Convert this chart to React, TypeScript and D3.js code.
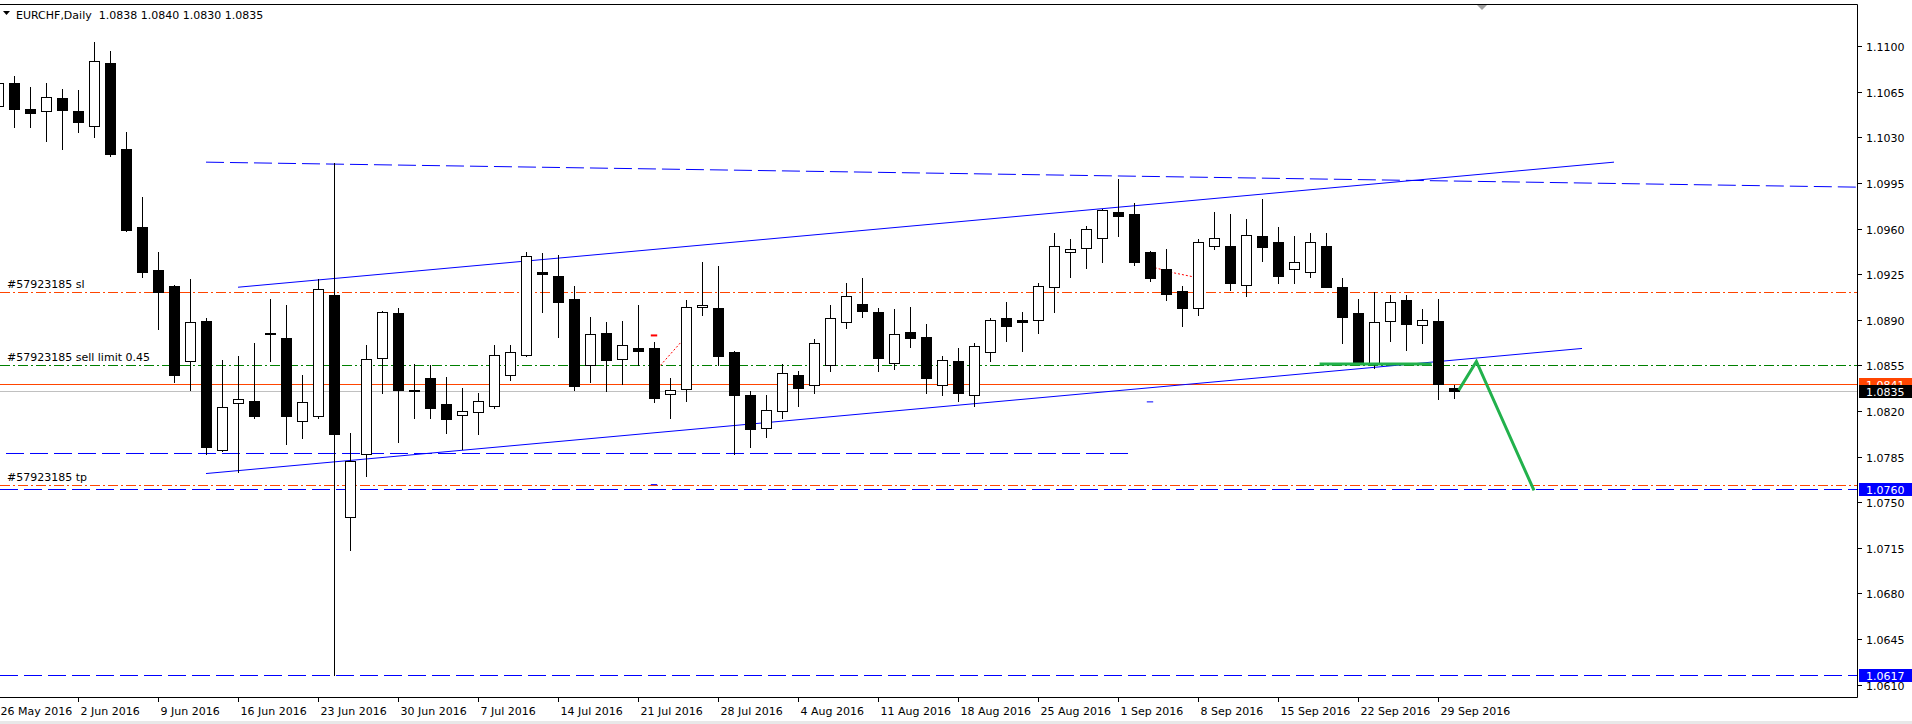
import React, { useEffect, useRef } from 'react';
import * as d3 from 'd3';

// EURCHF daily bars, 26 May 2016 .. 30 Sep 2016
const candleDates = [
  '2016-05-26', '2016-05-27', '2016-05-30', '2016-05-31',
  '2016-06-01', '2016-06-02', '2016-06-03', '2016-06-06', '2016-06-07', '2016-06-08', '2016-06-09', '2016-06-10',
  '2016-06-13', '2016-06-14', '2016-06-15', '2016-06-16', '2016-06-17', '2016-06-20', '2016-06-21', '2016-06-22',
  '2016-06-23', '2016-06-24', '2016-06-27', '2016-06-28', '2016-06-29', '2016-06-30',
  '2016-07-01', '2016-07-04', '2016-07-05', '2016-07-06', '2016-07-07', '2016-07-08', '2016-07-11', '2016-07-12',
  '2016-07-13', '2016-07-14', '2016-07-15', '2016-07-18', '2016-07-19', '2016-07-20', '2016-07-21', '2016-07-22',
  '2016-07-25', '2016-07-26', '2016-07-27', '2016-07-28', '2016-07-29',
  '2016-08-01', '2016-08-02', '2016-08-03', '2016-08-04', '2016-08-05', '2016-08-08', '2016-08-09', '2016-08-10',
  '2016-08-11', '2016-08-12', '2016-08-15', '2016-08-16', '2016-08-17', '2016-08-18', '2016-08-19', '2016-08-22',
  '2016-08-23', '2016-08-24', '2016-08-25', '2016-08-26', '2016-08-29', '2016-08-30', '2016-08-31',
  '2016-09-01', '2016-09-02', '2016-09-05', '2016-09-06', '2016-09-07', '2016-09-08', '2016-09-09', '2016-09-12',
  '2016-09-13', '2016-09-14', '2016-09-15', '2016-09-16', '2016-09-19', '2016-09-20', '2016-09-21', '2016-09-22',
  '2016-09-23', '2016-09-26', '2016-09-27', '2016-09-28', '2016-09-29', '2016-09-30',
];

const openPrices = [
  1.1054, 1.1072, 1.1052, 1.1050, 1.1060, 1.1050, 1.1039, 1.1087, 1.1021, 1.0961,
  1.0928, 1.0916, 1.0858, 1.0889, 1.0790, 1.0826, 1.0828, 1.0880, 1.0876, 1.0812,
  1.0816, 1.0909, 1.0739, 1.0787, 1.0861, 1.0895, 1.0836, 1.0845, 1.0825, 1.0817,
  1.0819, 1.0824, 1.0848, 1.0863, 1.0927, 1.0924, 1.0906, 1.0855, 1.0880, 1.0860,
  1.0868, 1.0868, 1.0833, 1.0837, 1.0900, 1.0899, 1.0865, 1.0832, 1.0807, 1.0820,
  1.0848, 1.0840, 1.0855, 1.0888, 1.0902, 1.0896, 1.0857, 1.0881, 1.0877, 1.0840,
  1.0858, 1.0832, 1.0865, 1.0891, 1.0890, 1.0890, 1.0915, 1.0942, 1.0945, 1.0953,
  1.0973, 1.0971, 1.0942, 1.0929, 1.0912, 1.0899, 1.0947, 1.0947, 1.0917, 1.0954,
  1.0950, 1.0929, 1.0927, 1.0947, 1.0915, 1.0895, 1.0856, 1.0889, 1.0905, 1.0886,
  1.0889, 1.0838,
];
const highPrices = [
  1.1074, 1.1077, 1.1069, 1.1072, 1.1067, 1.1066, 1.1103, 1.1096, 1.1034, 1.0984,
  1.0942, 1.0917, 1.0921, 1.0891, 1.0859, 1.0862, 1.0872, 1.0906, 1.0901, 1.0848,
  1.0921, 1.1010, 1.0803, 1.0871, 1.0897, 1.0899, 1.0856, 1.0855, 1.0846, 1.0838,
  1.0834, 1.0871, 1.0871, 1.0942, 1.0941, 1.0940, 1.0916, 1.0892, 1.0888, 1.0889,
  1.0901, 1.0873, 1.0845, 1.0905, 1.0934, 1.0931, 1.0866, 1.0835, 1.0832, 1.0856,
  1.0851, 1.0875, 1.0901, 1.0918, 1.0922, 1.0899, 1.0898, 1.0900, 1.0887, 1.0862,
  1.0868, 1.0872, 1.0891, 1.0904, 1.0896, 1.0918, 1.0957, 1.0952, 1.0962, 1.0975,
  1.0998, 1.0980, 1.0943, 1.0944, 1.0916, 1.0952, 1.0973, 1.0971, 1.0967, 1.0983,
  1.0961, 1.0954, 1.0957, 1.0957, 1.0922, 1.0906, 1.0911, 1.0909, 1.0909, 1.0898,
  1.0906, 1.0840,
];
const lowPrices = [
  1.1052, 1.1038, 1.1038, 1.1027, 1.1021, 1.1034, 1.1030, 1.1016, 1.0958, 1.0923,
  1.0883, 1.0842, 1.0836, 1.0787, 1.0789, 1.0773, 1.0815, 1.0858, 1.0795, 1.0799,
  1.0815, 1.0617, 1.0713, 1.0770, 1.0834, 1.0796, 1.0815, 1.0815, 1.0803, 1.0791,
  1.0802, 1.0822, 1.0844, 1.0862, 1.0896, 1.0877, 1.0836, 1.0842, 1.0835, 1.0841,
  1.0855, 1.0827, 1.0815, 1.0828, 1.0894, 1.0855, 1.0787, 1.0792, 1.0800, 1.0815,
  1.0824, 1.0834, 1.0851, 1.0884, 1.0892, 1.0851, 1.0852, 1.0869, 1.0834, 1.0832,
  1.0828, 1.0824, 1.0858, 1.0874, 1.0866, 1.0880, 1.0896, 1.0923, 1.0930, 1.0934,
  1.0954, 1.0932, 1.0920, 1.0905, 1.0885, 1.0894, 1.0944, 1.0913, 1.0908, 1.0935,
  1.0918, 1.0918, 1.0923, 1.0915, 1.0872, 1.0856, 1.0853, 1.0874, 1.0867, 1.0872,
  1.0829, 1.0830,
];
const closePrices = [
  1.1072, 1.1052, 1.1049, 1.1061, 1.1051, 1.1042, 1.1089, 1.1017, 1.0959, 1.0927,
  1.0911, 1.0848, 1.0888, 1.0792, 1.0823, 1.0829, 1.0816, 1.0879, 1.0816, 1.0827,
  1.0914, 1.0802, 1.0782, 1.0860, 1.0896, 1.0836, 1.0835, 1.0822, 1.0814, 1.0820,
  1.0828, 1.0863, 1.0865, 1.0939, 1.0925, 1.0904, 1.0839, 1.0879, 1.0859, 1.0871,
  1.0866, 1.0830, 1.0836, 1.0900, 1.0901, 1.0862, 1.0832, 1.0806, 1.0821, 1.0849,
  1.0838, 1.0872, 1.0891, 1.0908, 1.0897, 1.0861, 1.0879, 1.0876, 1.0845, 1.0859,
  1.0834, 1.0870, 1.0890, 1.0885, 1.0888, 1.0916, 1.0947, 1.0944, 1.0960, 1.0974,
  1.0970, 1.0934, 1.0922, 1.0910, 1.0899, 1.0950, 1.0953, 1.0918, 1.0955, 1.0946,
  1.0924, 1.0934, 1.0950, 1.0915, 1.0892, 1.0856, 1.0888, 1.0904, 1.0887, 1.0890,
  1.0841, 1.0835,
];

const priceTicks = [
  '1.1100', '1.1065', '1.1030', '1.0995', '1.0960', '1.0925', '1.0890', '1.0855',
  '1.0820', '1.0785', '1.0750', '1.0715', '1.0680', '1.0645', '1.0610',
];
const dateTickDays = [
  '2016-05-26', '2016-06-02', '2016-06-09', '2016-06-16', '2016-06-23', '2016-06-30', '2016-07-07',
  '2016-07-14', '2016-07-21', '2016-07-28', '2016-08-04', '2016-08-11', '2016-08-18', '2016-08-25',
  '2016-09-01', '2016-09-08', '2016-09-15', '2016-09-22', '2016-09-29',
];
const dateTickLabels = [
  '26 May 2016', '2 Jun 2016', '9 Jun 2016', '16 Jun 2016', '23 Jun 2016', '30 Jun 2016', '7 Jul 2016',
  '14 Jul 2016', '21 Jul 2016', '28 Jul 2016', '4 Aug 2016', '11 Aug 2016', '18 Aug 2016', '25 Aug 2016',
  '1 Sep 2016', '8 Sep 2016', '15 Sep 2016', '22 Sep 2016', '29 Sep 2016',
];

// order levels
const slLevel = 1.0911;
const sellLimitLevel = 1.0855;
const tpLevel = 1.0763;
const askLevel = 1.0841;
const bidLevel = 1.0835;
const blueLevels = [1.0760, 1.0617];

// drawn objects: [bar position, price]
const upperDashedRay: [number, number][] = [[13, 1.1011], [91, 1.09965]];
const channelTop: [number, number][] = [[15, 1.0915], [101, 1.1011]];
const channelBottom: [number, number][] = [[13, 1.0772], [99, 1.0868]];
const supportDashed: [number, number][] = [[-1, 1.0788], [71, 1.0788]];
const greenBase: [number, number][] = [[82.6, 1.0856], [89.6, 1.0856]];
const greenPath: [number, number][] = [[91.3, 1.0836], [92.4, 1.0858], [96, 1.0759]];
const redHistory1: [number, number][] = [[41.4, 1.0855], [42.7, 1.0873]];
const redHistory2: [number, number][] = [[72.3, 1.0930], [73.5, 1.0926], [74.7, 1.0923]];
const redMarker: [number, number][] = [[40.8, 1.0878], [41.2, 1.0878]];
const blueMarker1: [number, number][] = [[40.8, 1.07635], [41.2, 1.07635]];
const blueMarker2: [number, number][] = [[71.8, 1.0827], [72.2, 1.0827]];

const W = 1912;
const H = 724;
const RIGHT = 1857;
const TOP = 4;
const BOTTOM = 697;
const FONT = '"DejaVu Sans", Verdana, sans-serif';

const EurChfChart = () => {
  const ref = useRef<SVGSVGElement>(null);

  useEffect(() => {
    if (!ref.current) return;
    const svg = d3.select(ref.current);
    svg.selectAll('*').remove();

    const x = d3.scaleLinear().domain([0, 91]).range([-2, 1454]);
    const y = d3.scaleLinear().domain([1.11, 1.061]).range([46.2, 684.6]);
    const sy = (p: number) => Math.round(y(p)) + 0.5;
    const sx = (i: number) => Math.round(x(i)) + 0.5;

    svg.append('rect').attr('width', W).attr('height', H).attr('fill', '#fff');

    svg.append('defs').append('clipPath').attr('id', 'plot')
      .append('rect').attr('x', 0).attr('y', TOP + 1).attr('width', RIGHT).attr('height', BOTTOM - TOP - 1);

    const plot = svg.append('g').attr('clip-path', 'url(#plot)');
    const line = d3.line<[number, number]>().x(d => x(d[0])).y(d => y(d[1]));

    // horizontal order lines
    const hline = (level: number, color: string, dash: string | null) => {
      plot.append('line')
        .attr('x1', 0).attr('x2', RIGHT)
        .attr('y1', sy(level)).attr('y2', sy(level))
        .attr('stroke', color).attr('stroke-width', 1)
        .attr('stroke-dasharray', dash);
    };
    hline(bidLevel, '#c0c0c0', null);
    hline(askLevel, '#ff4500', null);
    hline(slLevel, '#ff4500', '10,3,2,3');
    hline(tpLevel, '#ff4500', '10,3,2,3');
    hline(sellLimitLevel, '#008000', '10,3,2,3');
    blueLevels.forEach(l => hline(l, '#0000ff', '18,6'));

    // trend objects
    const posR = x.invert(RIGHT);
    const [a, b] = upperDashedRay;
    const rayEnd: [number, number] = [posR, a[1] + (b[1] - a[1]) * (posR - a[0]) / (b[0] - a[0])];
    plot.append('path').attr('d', line([a, rayEnd])).attr('fill', 'none')
      .attr('stroke', '#0000ff').attr('stroke-dasharray', '18,6');
    plot.append('path').attr('d', line(supportDashed)).attr('fill', 'none')
      .attr('stroke', '#0000ff').attr('stroke-dasharray', '18,6')
      .attr('transform', `translate(0,${sy(supportDashed[0][1]) - y(supportDashed[0][1])})`);
    [channelTop, channelBottom].forEach(seg => {
      plot.append('path').attr('d', line(seg)).attr('fill', 'none').attr('stroke', '#0000ff');
    });
    [redHistory1, redHistory2].forEach(seg => {
      plot.append('path').attr('d', line(seg)).attr('fill', 'none')
        .attr('stroke', '#ff0000').attr('stroke-dasharray', '2,2');
    });
    plot.append('path').attr('d', line(redMarker)).attr('stroke', '#ff0000').attr('stroke-width', 2);
    [blueMarker1, blueMarker2].forEach(seg => {
      plot.append('path').attr('d', line(seg)).attr('stroke', '#0000ff').attr('stroke-width', 1);
    });

    // candles
    const candles = candleDates.map((d, i) => ({
      d, i, o: openPrices[i], h: highPrices[i], l: lowPrices[i], c: closePrices[i],
    }));
    const g = plot.append('g');
    candles.forEach(k => {
      const cx = sx(k.i);
      g.append('line')
        .attr('x1', cx).attr('x2', cx)
        .attr('y1', Math.round(y(k.h))).attr('y2', Math.round(y(k.l)) + 1)
        .attr('stroke', '#000');
      const top = Math.round(y(Math.max(k.o, k.c)));
      const bot = Math.round(y(Math.min(k.o, k.c)));
      if (bot - top < 1) {
        g.append('line')
          .attr('x1', cx - 5.5).attr('x2', cx + 5.5)
          .attr('y1', top + 0.5).attr('y2', top + 0.5)
          .attr('stroke', '#000');
      } else {
        g.append('rect')
          .attr('x', cx - 5).attr('y', top + 0.5)
          .attr('width', 10).attr('height', bot - top)
          .attr('fill', k.c > k.o ? '#fff' : '#000')
          .attr('stroke', '#000');
      }
    });

    // green hand-drawn lines on top
    [greenBase, greenPath].forEach(seg => {
      plot.append('path').attr('d', line(seg)).attr('fill', 'none')
        .attr('stroke', '#22b14c').attr('stroke-width', 3).attr('stroke-linejoin', 'miter');
    });

    // order labels
    const orderLabels: [string, number][] = [
      ['#57923185 sl', slLevel],
      ['#57923185 sell limit 0.45', sellLimitLevel],
      ['#57923185 tp', tpLevel],
    ];
    orderLabels.forEach(([t, lvl]) => {
      svg.append('text').attr('x', 7).attr('y', Math.round(y(lvl)) - 4)
        .attr('font-family', FONT).attr('font-size', 11).attr('fill', '#000').text(t);
    });

    // frame
    svg.append('path')
      .attr('d', `M0,${TOP + 0.5}H${RIGHT + 0.5}V${BOTTOM + 0.5}H0`)
      .attr('fill', 'none').attr('stroke', '#000');

    // price axis
    priceTicks.forEach(t => {
      const py = sy(+t);
      svg.append('line').attr('x1', RIGHT).attr('x2', RIGHT + 5).attr('y1', py).attr('y2', py).attr('stroke', '#000');
      svg.append('text').attr('x', 1866).attr('y', py + 4)
        .attr('font-family', FONT).attr('font-size', 11).attr('fill', '#000').text(t);
    });
    const priceBox = (level: number, bg: string) => {
      const py = Math.round(y(level));
      svg.append('rect').attr('x', 1859).attr('y', py - 6).attr('width', W - 1859).attr('height', 13).attr('fill', bg);
      svg.append('text').attr('x', 1866).attr('y', py + 5)
        .attr('font-family', FONT).attr('font-size', 11).attr('fill', '#fff').text(level.toFixed(4));
    };
    priceBox(askLevel, '#ff4500');
    priceBox(bidLevel, '#000');
    blueLevels.forEach(l => priceBox(l, '#0000ff'));

    // date axis
    dateTickDays.forEach((d, k) => {
      const i = candleDates.indexOf(d);
      const px = sx(i);
      svg.append('line').attr('x1', px).attr('x2', px).attr('y1', BOTTOM).attr('y2', BOTTOM + 5).attr('stroke', '#000');
      svg.append('text').attr('x', px + 2).attr('y', 715)
        .attr('font-family', FONT).attr('font-size', 11).attr('fill', '#000').text(dateTickLabels[k]);
    });
    svg.append('rect').attr('x', 0).attr('y', 721).attr('width', W).attr('height', 3).attr('fill', '#e8e8e8');

    // header
    svg.append('path').attr('d', 'M3,11H10L6.5,15Z').attr('fill', '#000');
    svg.append('text').attr('x', 16).attr('y', 19)
      .attr('font-family', FONT).attr('font-size', 11).attr('fill', '#000')
      .style('white-space', 'pre')
      .text('EURCHF,Daily  1.0838 1.0840 1.0830 1.0835');

    // chart shift marker
    svg.append('path').attr('d', 'M1477,5H1487L1482,10Z').attr('fill', '#a0a0a0');
  }, []);

  return (
    <svg ref={ref} width={W} height={H}
      style={{ position: 'absolute', left: 0, top: 0, display: 'block' }} />
  );
};

export default function App() {
  return <EurChfChart />;
}
